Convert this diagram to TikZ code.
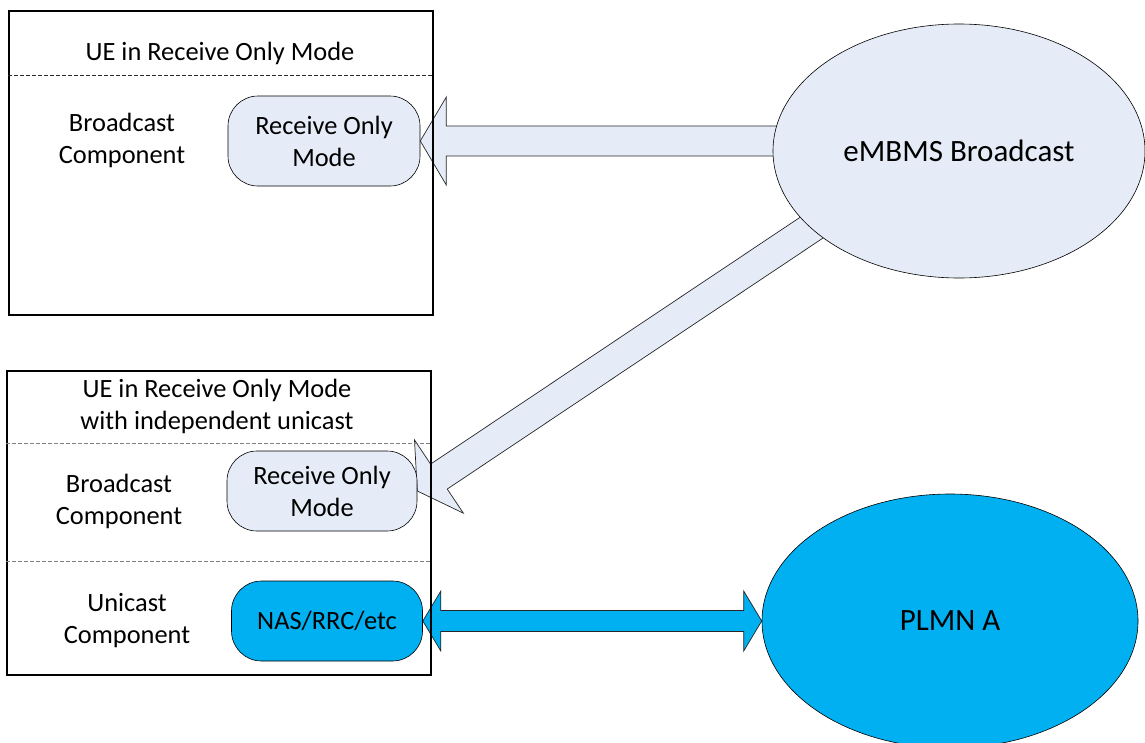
\documentclass[tikz,border=0pt]{standalone}
\usepackage{fontspec}
\setmainfont{Carlito}
\usetikzlibrary{calc, positioning, shapes.geometric}
\pgfdeclarelayer{back}
\pgfsetlayers{back,main}
\definecolor{bclight}{RGB}{230,236,247}
\definecolor{plmnblue}{RGB}{0,176,240}
\tikzset{
  uebox/.style={draw, line width=1.3pt, minimum width=424pt, minimum height=304pt, inner sep=0pt},
  modebox/.style={draw, line width=.6pt, rounded corners=30pt, minimum height=80pt, align=center, inner sep=0pt},
  lbl/.style={align=center, inner sep=0pt},
  netcloud/.style={ellipse, draw, line width=.6pt, inner sep=0pt, font=\fontsize{31}{37}\selectfont},
  fatarrow/.style={draw=black!85, line width=.7pt, line join=miter},
  sepline/.style={line width=.8pt, dash pattern=on 3.5pt off 2.5pt},
}

\begin{document}
\begin{tikzpicture}[x=1pt, y=-1pt, font=\fontsize{26.4}{32}\selectfont]
\useasboundingbox (0,0) rectangle (1145,742);

\begin{scope}
\node[uebox] (ue1) at (221,163) {};
\node[lbl] (ue1title) at (220,53) {UE in Receive Only Mode};
\draw[sepline, black!85] (ue1.west |- 0,75) -- (ue1.east |- 0,75);
\node[lbl] (bcomp1) at (122,140) {Broadcast\\Component};
\node[modebox, fill=bclight, minimum width=192pt, minimum height=90pt] (rom1) at (324,141) {Receive Only\\Mode};
\end{scope}

\begin{scope}[yshift=-360pt]
\node[uebox] (ue2) at (219,163) {};
\node[lbl] (ue2title) at (217,46) {UE in Receive Only Mode\\with independent unicast};
\draw[sepline, gray] (ue2.west |- 0,83) -- (ue2.east |- 0,83);
\draw[sepline, gray] (ue2.west |- 0,201) -- (ue2.east |- 0,201);
\node[lbl] (bcomp2) at (119,141) {Broadcast\\Component};
\node[modebox, fill=bclight, minimum width=190pt] (rom2) at (322,131) {Receive Only\\Mode};
\node[lbl] (ucomp) at (127,261) {Unicast\\Component};
\node[modebox, fill=plmnblue, minimum width=191pt] (nas) at (327,261) {NAS/RRC/etc};
\end{scope}

\node[netcloud, fill=bclight, minimum width=372pt, minimum height=254pt] (bc) at (959,151) {eMBMS Broadcast};
\node[netcloud, fill=plmnblue, minimum width=376pt, minimum height=254pt] (plmn) at (950,621) {PLMN A};

\begin{pgfonlayer}{back}
\draw[fatarrow, fill=bclight] (rom1.east) -- ++(26,-44) |- ($(rom1.east -| bc.west)+(20,-15)$) -- ++(0,30) -| ($(rom1.east)+(26,44)$) -- cycle;

\coordinate (bcTail) at ($(bc.center)+(-130,65)$);
\coordinate (headB) at ($(rom2.east)!26pt!(bcTail)$);
\draw[fatarrow, fill=bclight] (rom2.east) -- ($(headB)!44pt!90:(bcTail)$) -- ($(headB)!15pt!90:(bcTail)$)
  -- ($(bcTail)!15pt!-90:(headB)$) -- ($(bcTail)!15pt!90:(headB)$) -- ($(headB)!15pt!-90:(bcTail)$)
  -- ($(headB)!44pt!-90:(bcTail)$) -- cycle;

\draw[fatarrow, fill=plmnblue] (nas.east) -- ++(18,-30) -- ++(0,19.5) -- ($(plmn.west)+(-18,-10.5)$) -- ++(0,-19.5)
  -- (plmn.west) -- ++(-18,30) -- ++(0,-19.5) -- ($(nas.east)+(18,10.5)$) -- ++(0,19.5) -- cycle;
\end{pgfonlayer}

\end{tikzpicture}
\end{document}
